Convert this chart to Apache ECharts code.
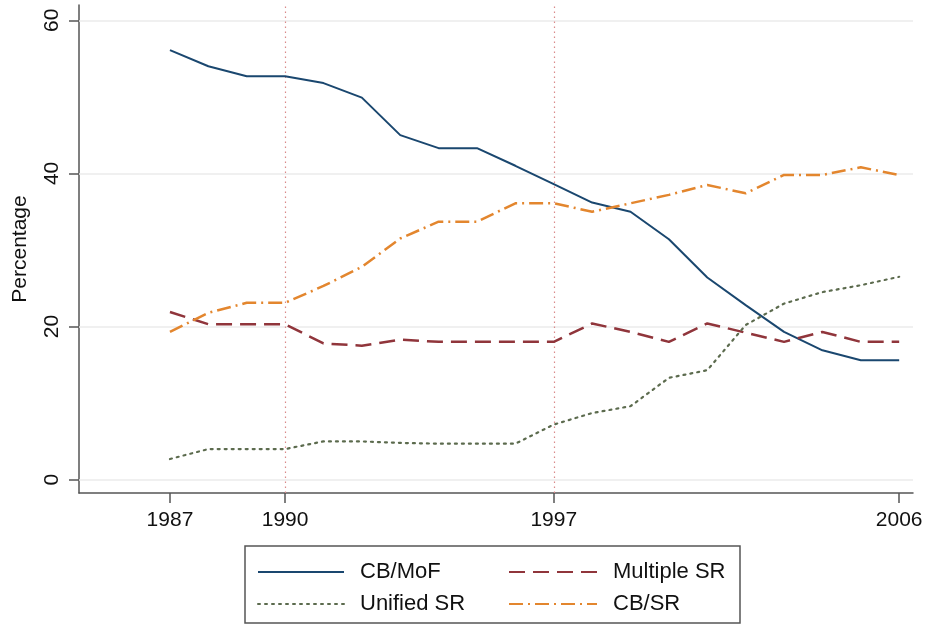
<!DOCTYPE html>
<html>
<head>
<meta charset="utf-8">
<script src="https://cdn.jsdelivr.net/npm/echarts@6/dist/echarts.min.js"></script>
<style>html,body{margin:0;padding:0;background:#fff}#c{width:928px;height:625px}</style>
</head>
<body>
<div id="c"></div>
<script>
const years = [1987,1988,1989,1990,1991,1992,1993,1994,1995,1996,1997,1998,1999,2000,2001,2002,2003,2004,2005,2006];
const cbMof      = [56.1,54.0,52.7,52.7,51.8,49.9,45.0,43.3,43.3,41.0,38.6,36.2,35.0,31.4,26.4,22.8,19.3,16.9,15.6,15.6];
const multipleSR = [21.9,20.3,20.3,20.3,17.8,17.5,18.3,18.0,18.0,18.0,18.0,20.4,19.3,18.0,20.4,19.2,18.0,19.3,18.0,18.0];
const unifiedSR  = [2.7,4.0,4.0,4.0,5.0,5.0,4.8,4.7,4.7,4.7,7.2,8.7,9.6,13.3,14.3,20.2,23.0,24.5,25.4,26.5];
const cbSR       = [19.3,21.8,23.1,23.1,25.3,27.8,31.5,33.7,33.7,36.1,36.1,35.0,36.1,37.2,38.5,37.4,39.8,39.8,40.8,39.8];
const xTicks = [1987,1990,1997,2006];
const yTicks = [0,20,40,60];
const markerYears = [1990,1997];
const seriesNames = ['CB/MoF','Multiple SR','Unified SR','CB/SR'];

const pairs = arr => years.map((y,i)=>[y,arr[i]]);
const FONT = '"Liberation Sans", Arial, Helvetica, sans-serif';

const chart = echarts.init(document.getElementById('c'), null, {renderer:'canvas'});
const legendText = {fontFamily: FONT, fontSize: 22, color:'#111', lineHeight: 26, padding:[0,0,0,11]};
const hiddenSymbol = {color:'rgba(0,0,0,0)', borderWidth:0, opacity:0};
chart.setOption({
  animation:false,
  backgroundColor:'#fff',
  grid:{left:79, right:15, top:5, bottom:132, containLabel:false},
  xAxis:{
    type:'value', min:1984.63, max:2006.36,
    splitLine:{show:false},
    axisLine:{show:true, onZero:false, lineStyle:{color:'#555', width:1.5}},
    axisTick:{show:true, length:10, customValues:xTicks, lineStyle:{color:'#555', width:1.5}},
    axisLabel:{customValues:xTicks, margin:17, fontFamily:FONT, fontSize:21, color:'#111', formatter:v=>String(v)}
  },
  yAxis:{
    type:'value', min:-1.74, max:62.0,
    name:'Percentage', nameLocation:'middle', nameRotate:90, nameGap:48,
    nameTextStyle:{fontFamily:FONT, fontSize:21, color:'#111'},
    splitLine:{show:false},
    axisLine:{show:true, onZero:false, lineStyle:{color:'#555', width:1.5}},
    axisTick:{show:true, length:10, customValues:yTicks, lineStyle:{color:'#555', width:1.5}},
    axisLabel:{customValues:yTicks, rotate:90, margin:16, fontFamily:FONT, fontSize:21, color:'#111', formatter:v=>String(v)}
  },
  legend:[
    {left:257, top:559, orient:'vertical', itemGap:6, itemWidth:86, itemHeight:14, padding:0,
     itemStyle:hiddenSymbol, data:['CB/MoF','Unified SR'], textStyle:legendText},
    {left:508, top:559, orient:'vertical', itemGap:6, itemWidth:88, itemHeight:14, padding:0,
     itemStyle:hiddenSymbol, data:['Multiple SR','CB/SR'], textStyle:legendText}
  ],
  graphic:[{type:'rect', shape:{x:245, y:546, width:495, height:77}, style:{fill:'none', stroke:'#555', lineWidth:1.5}, silent:true}],
  series:[
    {type:'line', name:'_grid', data:[], z:0, silent:true,
     markLine:{silent:true, symbol:'none', label:{show:false}, animation:false,
       lineStyle:{color:'#ebebeb', width:1.5, type:'solid'},
       data:yTicks.map(v=>({yAxis:v}))}},
    {type:'line', name:'_markers', data:[], z:1, silent:true,
     markLine:{silent:true, symbol:'none', label:{show:false}, animation:false,
       lineStyle:{color:'#d98a8a', width:1.2, type:[1.5,3.5]},
       data:markerYears.map(v=>({xAxis:v}))}},
    {type:'line', name:seriesNames[0], data:pairs(cbMof), symbol:'none', z:5,
     lineStyle:{color:'#1a476f', width:2, type:'solid'}, itemStyle:{color:'#1a476f'}},
    {type:'line', name:seriesNames[1], data:pairs(multipleSR), symbol:'none', z:5,
     lineStyle:{color:'#90353b', width:2.5, type:[16,8]}, itemStyle:{color:'#90353b'}},
    {type:'line', name:seriesNames[2], data:pairs(unifiedSR), symbol:'none', z:5,
     lineStyle:{color:'#5c6b4e', width:2.2, type:[2,5], cap:'round'}, itemStyle:{color:'#5c6b4e'}},
    {type:'line', name:seriesNames[3], data:pairs(cbSR), symbol:'none', z:5,
     lineStyle:{color:'#e3862e', width:2.5, type:[14,5,2,5]}, itemStyle:{color:'#e3862e'}}
  ]
});
</script>
</body>
</html>
